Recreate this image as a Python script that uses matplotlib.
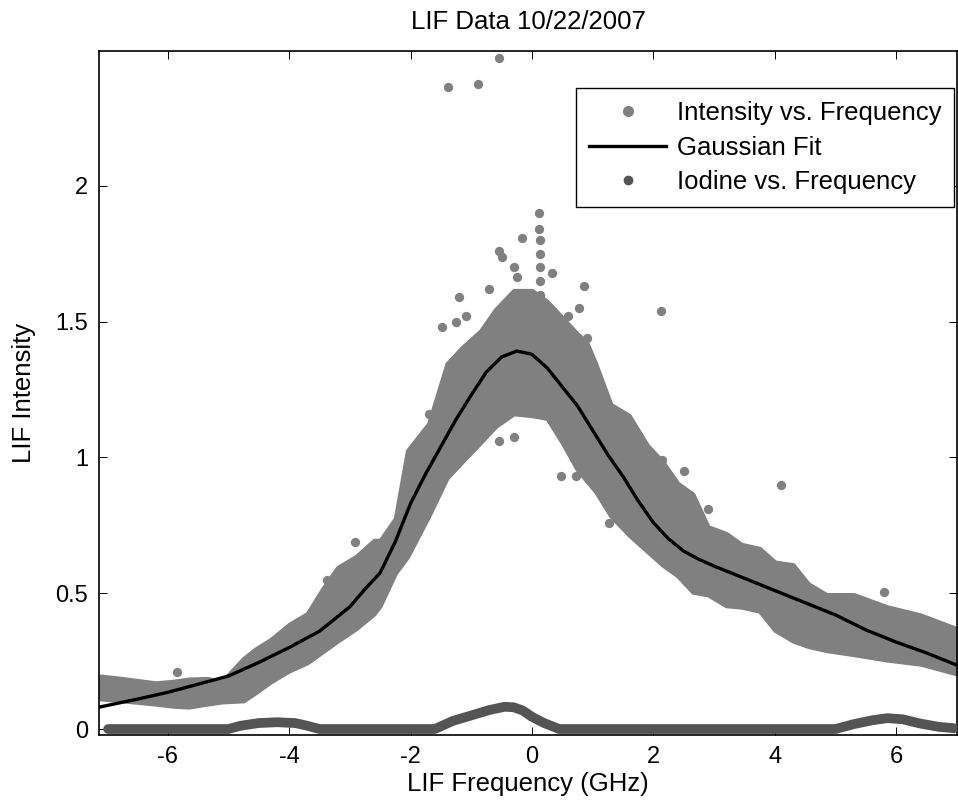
import matplotlib
matplotlib.use("Agg")
import matplotlib.pyplot as plt
from matplotlib.lines import Line2D

plt.rcParams['font.family'] = ['Liberation Sans', 'DejaVu Sans']
plt.rcParams['axes.unicode_minus'] = False

# ---- data ----
# Intensity vs. Frequency: dense scatter band, upper / lower envelope
band_x = [-7.1, -6.75, -6.2, -5.9, -5.65, -5.35, -5.1, -4.75, -4.55, -4.3, -4.0, -3.7,
          -3.45, -3.2, -2.9, -2.6, -2.5, -2.25, -2.05, -1.7, -1.4, -1.15, -0.85, -0.6,
          -0.3, 0.0, 0.25, 0.5, 0.75, 0.9, 1.05, 1.3, 1.6, 1.9, 2.15, 2.4, 2.65, 2.9,
          3.2, 3.45, 3.75, 4.0, 4.3, 4.55, 4.85, 5.3, 5.85, 6.4, 6.98]
band_hi = [0.195, 0.186, 0.17, 0.176, 0.184, 0.186, 0.176, 0.26, 0.295, 0.33, 0.385, 0.425,
           0.515, 0.595, 0.635, 0.695, 0.695, 0.775, 1.025, 1.125, 1.345, 1.405, 1.465, 1.545,
           1.615, 1.615, 1.575, 1.515, 1.455, 1.425, 1.345, 1.195, 1.155, 1.045, 0.985, 0.905,
           0.865, 0.745, 0.72, 0.68, 0.665, 0.615, 0.605, 0.535, 0.495, 0.495, 0.45, 0.42, 0.371]
band_lo = [0.111, 0.104, 0.092, 0.084, 0.081, 0.092, 0.10, 0.104, 0.134, 0.174, 0.214, 0.244,
           0.284, 0.324, 0.369, 0.424, 0.454, 0.574, 0.634, 0.784, 0.924, 0.984, 1.054, 1.114,
           1.161, 1.154, 1.144, 1.054, 0.954, 0.914, 0.874, 0.784, 0.714, 0.654, 0.604, 0.564,
           0.504, 0.494, 0.454, 0.449, 0.434, 0.364, 0.324, 0.304, 0.289, 0.274, 0.254, 0.239, 0.204]

# Intensity points lying outside the dense band
out_x = [-0.54, -1.38, -0.89, 0.12, 0.12, 0.13, 0.13, 0.13, 0.13, 0.13, -0.16, -0.54, -0.50,
         0.33, 0.86, -1.20, 0.77, 2.12, -1.48, -1.25, -1.09, -0.30, -0.25, -0.70, 0.60, 0.90,
         -5.84, -3.37, -2.91, 2.50, 4.10, 2.90, 5.80, -0.55, -0.30, 0.48, 0.72, 1.27, -1.70, 2.14]
out_y = [2.47, 2.365, 2.375, 1.90, 1.84, 1.80, 1.75, 1.70, 1.65, 1.60, 1.81, 1.76, 1.74,
         1.68, 1.63, 1.59, 1.55, 1.54, 1.48, 1.50, 1.52, 1.70, 1.665, 1.62, 1.52, 1.44,
         0.21, 0.55, 0.69, 0.95, 0.90, 0.81, 0.505, 1.06, 1.075, 0.93, 0.93, 0.76, 1.16, 0.99]

# Gaussian fit
fit_x = [-7.14, -6.5, -6.0, -5.5, -5.0, -4.5, -4.0, -3.5, -3.0, -2.75, -2.5, -2.25, -2.0,
         -1.75, -1.5, -1.25, -1.0, -0.75, -0.5, -0.25, 0.0, 0.25, 0.5, 0.75, 1.0, 1.25,
         1.5, 1.75, 2.0, 2.25, 2.5, 2.75, 3.0, 3.5, 4.0, 4.5, 5.0, 5.5, 6.0, 6.5, 7.0]
fit_y = [0.08, 0.11, 0.135, 0.165, 0.195, 0.245, 0.30, 0.36, 0.45, 0.515, 0.575, 0.69, 0.83,
         0.94, 1.04, 1.14, 1.23, 1.315, 1.37, 1.392, 1.38, 1.33, 1.26, 1.19, 1.10, 1.01,
         0.93, 0.84, 0.76, 0.70, 0.655, 0.625, 0.60, 0.555, 0.51, 0.465, 0.42, 0.365, 0.32,
         0.28, 0.235]

# Iodine vs. Frequency
iod_x = [-6.98, -5.0, -4.8, -4.5, -4.2, -3.9, -3.7, -3.5, -1.6, -1.3, -1.0, -0.7, -0.45,
         -0.3, -0.15, 0.0, 0.2, 0.45, 5.0, 5.3, 5.6, 5.85, 6.1, 6.4, 6.7, 6.95]
iod_y = [0.0, 0.0, 0.012, 0.022, 0.025, 0.022, 0.012, 0.0, 0.0, 0.03, 0.05, 0.07, 0.082,
         0.08, 0.068, 0.045, 0.022, 0.0, 0.0, 0.018, 0.032, 0.04, 0.036, 0.02, 0.008, 0.003]

x_ticks = [-6, -4, -2, 0, 2, 4, 6]
y_ticks = [0, 0.5, 1, 1.5, 2]
labels = ['Intensity vs. Frequency', 'Gaussian Fit', 'Iodine vs. Frequency']

gray = '#808080'
dark = '#545454'

fig = plt.figure(figsize=(9.58, 8.05), dpi=100)
ax = fig.add_axes([99 / 958, 70 / 805, 858 / 958, 683.5 / 805])

band = ax.fill_between(band_x, band_lo, band_hi, facecolor=gray, edgecolor=gray,
                       linewidth=3, zorder=2)
band.set_joinstyle('round')
ax.scatter(out_x, out_y, s=45, color=gray, linewidths=0, zorder=2)
ax.plot(fit_x, fit_y, color='black', linewidth=2.4, zorder=3)
ax.plot(iod_x, iod_y, color=dark, linewidth=7, solid_capstyle='round',
        solid_joinstyle='round', zorder=4)

ax.set_xlim(-7.13, 7.0)
ax.set_ylim(-0.022, 2.495)
ax.set_xticks(x_ticks)
ax.set_yticks(y_ticks)
ax.set_yticklabels(['%g' % v for v in y_ticks])
ax.tick_params(direction='in', length=6, width=0.7, top=True, right=True,
               labelsize=17, pad=8)
for s in ax.spines.values():
    s.set_linewidth(1.2)

ax.set_xlabel('LIF Frequency (GHz)', fontsize=18.5, labelpad=3)
ax.set_ylabel('LIF Intensity', fontsize=18.5, labelpad=14)
ax.set_title('LIF Data 10/22/2007', fontsize=18.5, pad=16)

handles = [
    Line2D([], [], linestyle='none', marker='o', markersize=8, color=gray, markeredgewidth=0),
    Line2D([], [], color='black', linewidth=2.4),
    Line2D([], [], linestyle='none', marker='o', markersize=7, color=dark, markeredgewidth=0),
]
leg = ax.legend(handles, labels, loc='upper right',
                bbox_to_anchor=(954 / 958, 1 - 88 / 805), bbox_transform=fig.transFigure,
                fontsize=18.5, frameon=True, fancybox=False, edgecolor='black',
                framealpha=1, borderaxespad=0, borderpad=0.5, labelspacing=0.42,
                handlelength=3.0, handletextpad=0.4)
leg.get_frame().set_linewidth(1.0)

fig.savefig('out.png', dpi=100)
